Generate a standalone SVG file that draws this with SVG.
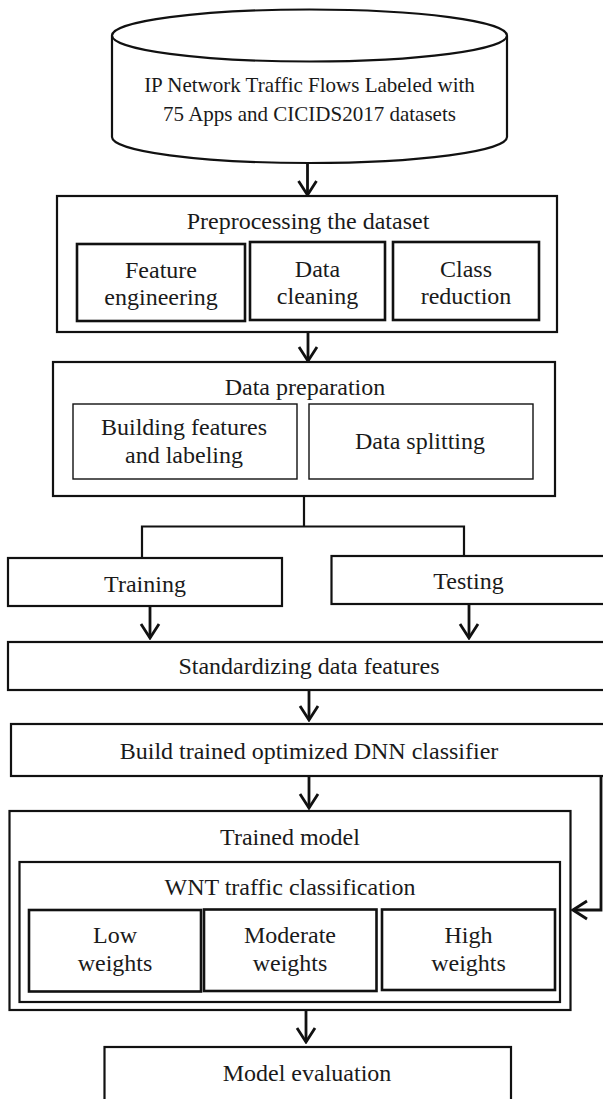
<svg xmlns="http://www.w3.org/2000/svg" width="603" height="1099" viewBox="0 0 603 1099">
  <style>
    .box { fill: #fff; stroke: #111; stroke-width: 2.2; }
    .inner { fill: #fff; stroke: #111; stroke-width: 2.6; }
    .thin { fill: #fff; stroke: #111; stroke-width: 1.4; }
    .wire { fill: none; stroke: #111; stroke-width: 2.2; }
    .arrow { fill: none; stroke: #111; stroke-width: 2.8; marker-end: url(#vhead); }
    text { font-family: "Liberation Serif", "Times New Roman", serif; font-size: 24px; fill: #1a1a1a; text-anchor: middle; }
    .small { font-size: 21px; }
  </style>
  <defs>
    <marker id="vhead" markerUnits="userSpaceOnUse" viewBox="-2 -11 19 22" markerWidth="19" markerHeight="22" refX="15" refY="0" orient="auto">
      <path d="M1,-9 L15,0 L1,9" fill="none" stroke="#111" stroke-width="2.8"/>
    </marker>
  </defs>

  <rect width="603" height="1099" fill="#fff"/>

  <!-- dataset cylinder -->
  <g id="dataset">
    <path class="box" d="M112,35.5 L112,137 A197.5,26 0 0 0 507,137 L507,35.5"/>
    <ellipse class="box" cx="309.5" cy="35.5" rx="197.5" ry="26"/>
    <text class="small" x="309.5" y="92">IP Network Traffic Flows Labeled with</text>
    <text class="small" x="309.5" y="121">75 Apps and CICIDS2017 datasets</text>
  </g>

  <!-- preprocessing stage -->
  <g id="preprocessing">
    <rect class="box" x="57" y="196" width="500" height="136"/>
    <text x="308" y="229">Preprocessing the dataset</text>
    <g id="feature-engineering">
      <rect class="inner" x="77" y="244" width="168" height="77"/>
      <text x="161" y="278">Feature</text>
      <text x="161" y="305">engineering</text>
    </g>
    <g id="data-cleaning">
      <rect class="inner" x="250" y="242" width="135" height="78"/>
      <text x="317.5" y="277">Data</text>
      <text x="317.5" y="304">cleaning</text>
    </g>
    <g id="class-reduction">
      <rect class="inner" x="393" y="242" width="146" height="78"/>
      <text x="466" y="277">Class</text>
      <text x="466" y="304">reduction</text>
    </g>
  </g>

  <!-- data preparation stage -->
  <g id="data-preparation">
    <rect class="box" x="53" y="362" width="502" height="134"/>
    <text x="305" y="395">Data preparation</text>
    <g id="building-features">
      <rect class="thin" x="73" y="404" width="224" height="75"/>
      <text x="184" y="435">Building features</text>
      <text x="184" y="463">and labeling</text>
    </g>
    <g id="data-splitting">
      <rect class="thin" x="309" y="404" width="224" height="75"/>
      <text x="420" y="449">Data splitting</text>
    </g>
  </g>

  <g id="training">
    <rect class="box" x="8" y="558" width="274" height="48"/>
    <text x="145" y="592">Training</text>
  </g>

  <g id="testing">
    <rect class="box" x="331.5" y="556" width="280" height="48"/>
    <text x="468.5" y="589">Testing</text>
  </g>

  <g id="standardizing">
    <rect class="box" x="8" y="642" width="605" height="48"/>
    <text x="309" y="674">Standardizing data features</text>
  </g>

  <g id="build-classifier">
    <rect class="box" x="11" y="724" width="602" height="52"/>
    <text x="309" y="759">Build trained optimized DNN classifier</text>
  </g>

  <!-- trained model with its classification groups -->
  <g id="trained-model">
    <rect class="box" x="9.5" y="811" width="561" height="199"/>
    <text x="290" y="845">Trained model</text>
    <g id="wnt-classification">
      <rect class="box" x="19.5" y="862" width="540.5" height="140"/>
      <text x="290" y="895">WNT traffic classification</text>
      <g id="low-weights">
        <rect class="inner" x="29" y="910" width="172" height="81.5"/>
        <text x="115" y="943">Low</text>
        <text x="115" y="971">weights</text>
      </g>
      <g id="moderate-weights">
        <rect class="inner" x="204" y="909.5" width="172.5" height="81.5"/>
        <text x="290" y="943">Moderate</text>
        <text x="290" y="971">weights</text>
      </g>
      <g id="high-weights">
        <rect class="inner" x="382" y="909.5" width="173" height="80.5"/>
        <text x="468.5" y="943">High</text>
        <text x="468.5" y="971">weights</text>
      </g>
    </g>
  </g>

  <g id="model-evaluation">
    <rect class="box" x="104.5" y="1047" width="406.5" height="70"/>
    <text x="307" y="1081">Model evaluation</text>
  </g>

  <!-- connectors -->
  <g id="connectors">
    <line class="arrow" x1="307.5" y1="163" x2="307.5" y2="195"/>
    <line class="arrow" x1="308" y1="332" x2="308" y2="361"/>
    <path class="wire" d="M304,496 L304,526.5 M142,558 L142,526.5 L464,526.5 L464,556"/>
    <line class="arrow" x1="150" y1="606" x2="150" y2="638"/>
    <line class="arrow" x1="469" y1="604" x2="469" y2="638"/>
    <line class="arrow" x1="309" y1="690" x2="309" y2="720"/>
    <line class="arrow" x1="309" y1="776" x2="309" y2="808"/>
    <path class="arrow" d="M601,776 L601,910 L573,910"/>
    <line class="arrow" x1="306" y1="1010" x2="306" y2="1042"/>
  </g>
</svg>
